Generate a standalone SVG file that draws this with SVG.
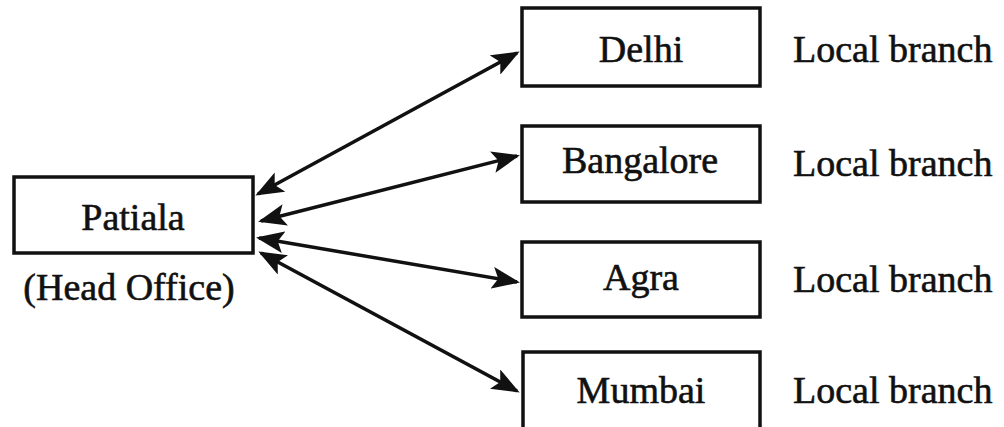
<svg xmlns="http://www.w3.org/2000/svg" width="1004" height="427" viewBox="0 0 1004 427">
  <style>
    .box { fill: #ffffff; stroke: #111111; stroke-width: 3.5; }
    .label { font-family: "Liberation Serif", "Times New Roman", serif; font-size: 38px; fill: #111111; stroke: #111111; stroke-width: 0.6; }
    .mid { text-anchor: middle; }
    .link { stroke: #111111; stroke-width: 3.5; fill: none; marker-start: url(#head); marker-end: url(#head); }
  </style>
  <defs>
    <marker id="head" viewBox="0 0 28 22" refX="25" refY="11" markerWidth="28" markerHeight="22" markerUnits="userSpaceOnUse" orient="auto-start-reverse">
      <path d="M0,0 L28,11 L0,22 L6,11 Z" fill="#111111"/>
    </marker>
  </defs>
  <rect width="1004" height="427" fill="#ffffff"/>

  <!-- Head office -->
  <g id="patiala">
    <rect class="box" x="14" y="177" width="239" height="76"/>
    <text class="label mid" x="133" y="230">Patiala</text>
    <text class="label mid" x="129" y="300">(Head Office)</text>
  </g>

  <!-- Branch offices -->
  <g id="delhi">
    <rect class="box" x="522" y="8" width="238" height="78"/>
    <text class="label mid" x="641" y="62">Delhi</text>
    <text class="label" x="793" y="62">Local branch</text>
  </g>
  <g id="bangalore">
    <rect class="box" x="522" y="126" width="238" height="76"/>
    <text class="label mid" x="640" y="173">Bangalore</text>
    <text class="label" x="793" y="176">Local branch</text>
  </g>
  <g id="agra">
    <rect class="box" x="522" y="242" width="238" height="75"/>
    <text class="label mid" x="641" y="290">Agra</text>
    <text class="label" x="793" y="292">Local branch</text>
  </g>
  <g id="mumbai">
    <rect class="box" x="523" y="352" width="237" height="80"/>
    <text class="label mid" x="641" y="403">Mumbai</text>
    <text class="label" x="793" y="403">Local branch</text>
  </g>

  <!-- Two-way links between head office and branches -->
  <g id="connectors">
    <line class="link" x1="258" y1="194" x2="517" y2="53"/>
    <line class="link" x1="261" y1="221" x2="517" y2="156"/>
    <line class="link" x1="259" y1="238" x2="517" y2="282"/>
    <line class="link" x1="261" y1="253" x2="517" y2="391"/>
  </g>
</svg>
